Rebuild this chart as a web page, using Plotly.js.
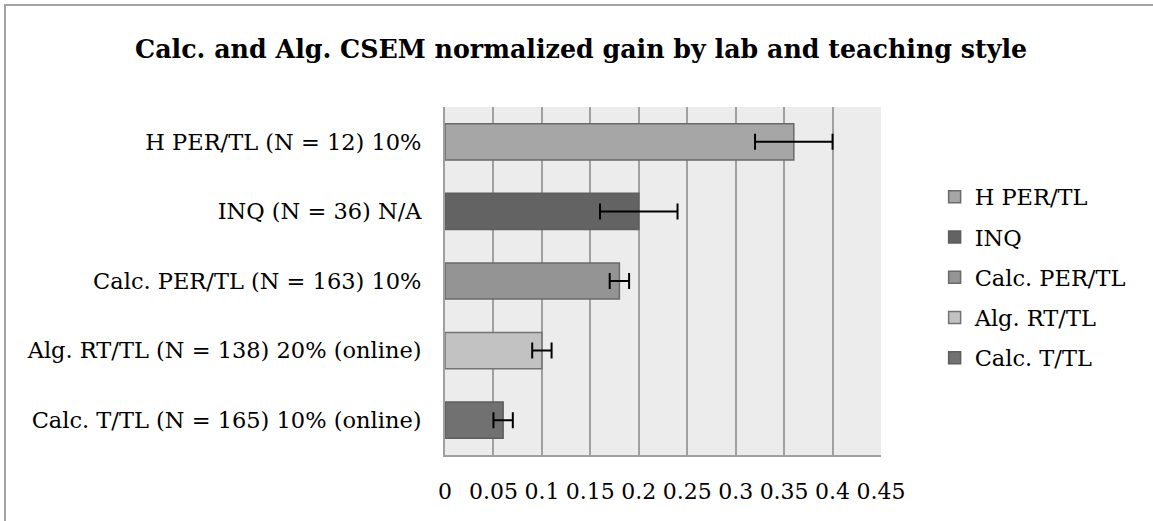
<!DOCTYPE html>
<html>
<head>
<meta charset="utf-8">
<script src="https://cdn.plot.ly/plotly-3.0.1.min.js"></script>
<style>
html,body{margin:0;padding:0;background:#fff;}
#wrap{position:relative;width:1153px;height:521px;overflow:hidden;}
#chart{position:absolute;left:0;top:0;width:1153px;height:521px;}
#frame{position:absolute;left:4px;top:4px;width:1300px;height:700px;border-left:2px solid #a3a3a3;border-top:2px solid #a3a3a3;pointer-events:none;}
</style>
</head>
<body>
<div id="wrap"><div id="chart"></div><div id="frame"></div></div>
<script>
var categories = ['H PER/TL (N = 12) 10%', 'INQ (N = 36) N/A', 'Calc. PER/TL (N = 163) 10%', 'Alg. RT/TL (N = 138) 20% (online)', 'Calc. T/TL (N = 165) 10% (online)'];
var seriesNames = ['H PER/TL', 'INQ', 'Calc. PER/TL', 'Alg. RT/TL', 'Calc. T/TL'];
var gains = [0.36, 0.20, 0.18, 0.10, 0.06];
var errors = [0.04, 0.04, 0.01, 0.01, 0.01];
var xTicks = [0, 0.05, 0.1, 0.15, 0.2, 0.25, 0.3, 0.35, 0.4, 0.45];

var fills = ['#a6a6a6', '#636363', '#949494', '#c2c2c2', '#717171'];
var edges = ['#6a6a6a', '#5e5e5e', '#6a6a6a', '#737373', '#5e5e5e'];
var FONT = 'DejaVu Serif, serif';

var traces = seriesNames.map(function (name, i) {
  return {
    type: 'bar',
    orientation: 'h',
    name: name,
    legendgroup: 'g' + i,
    x: [gains[i]],
    y: [categories[i]],
    marker: {color: fills[i], line: {color: edges[i], width: 1.5}},
    error_x: {type: 'data', array: [errors[i]], visible: true, color: '#000', thickness: 2, width: 8},
    hoverinfo: 'x+name'
  };
});

var layout = {
  width: 1153, height: 521,
  margin: {l: 445, r: 272, t: 107, b: 66},
  paper_bgcolor: 'rgba(0,0,0,0)',
  plot_bgcolor: '#ececec',
  barmode: 'overlay',
  bargap: 0.48,
  showlegend: true,
  font: {family: FONT, color: '#000', size: 22.5},
  title: {
    text: '<b>Calc. and Alg. CSEM normalized gain by lab and teaching style</b>',
    font: {family: FONT, size: 25.3, color: '#000'},
    x: 0.504, xref: 'container', xanchor: 'center',
    y: 0.905, yref: 'container', yanchor: 'middle'
  },
  xaxis: {
    range: [0, 0.45],
    tickvals: xTicks,
    ticktext: xTicks.map(function (v) { return String(v); }),
    showgrid: true, gridcolor: '#a0a0a0', gridwidth: 2,
    showline: true, linecolor: '#a0a0a0', linewidth: 2,
    zeroline: false,
    ticks: '', ticklabelstandoff: 16,
    tickfont: {family: FONT, size: 22, color: '#000'},
    fixedrange: true
  },
  yaxis: {
    type: 'category',
    categoryorder: 'array',
    categoryarray: categories,
    autorange: 'reversed',
    showgrid: false,
    showline: true, linecolor: '#a0a0a0', linewidth: 2,
    zeroline: false,
    ticks: '', ticklabelstandoff: 17,
    tickfont: {family: FONT, size: 22.5, color: '#000'},
    fixedrange: true
  },
  legend: {
    x: 1.123, xanchor: 'left',
    y: 0.803, yanchor: 'top',
    traceorder: 'grouped',
    tracegroupgap: 8,
    font: {family: FONT, size: 22.5, color: '#000'},
    bgcolor: 'rgba(0,0,0,0)',
    itemclick: false, itemdoubleclick: false
  }
};

Plotly.newPlot('chart', traces, layout, {displayModeBar: false, staticPlot: true});
</script>
</body>
</html>
